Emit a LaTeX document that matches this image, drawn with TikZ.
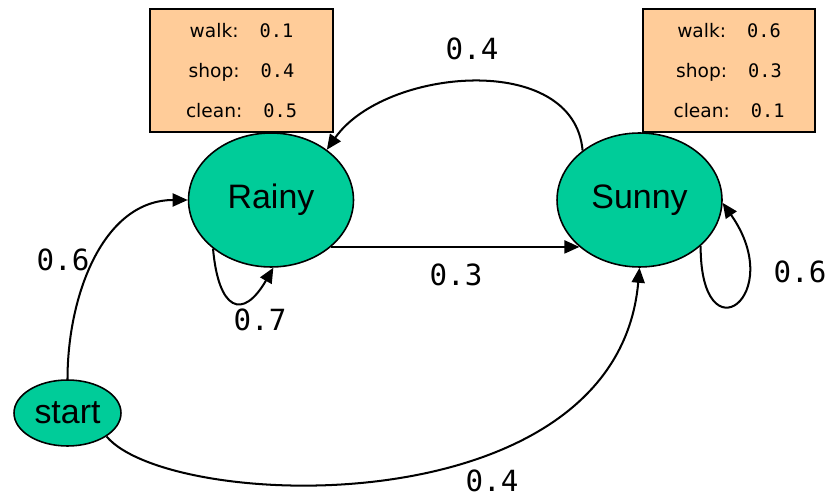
\documentclass[tikz,border=0pt]{standalone}
\usepackage{fontspec}
\setmainfont{Liberation Sans}
\newfontfamily\labelfont{DejaVu Sans}
\newfontfamily\numfont{DejaVu Sans Mono}
\usetikzlibrary{shapes.geometric, arrows.meta}
\definecolor{stategreen}{RGB}{0,204,153}
\definecolor{emitorange}{RGB}{255,204,153}
\tikzstyle{state}=[ellipse,draw,line width=0.9pt,fill=stategreen,inner sep=0,font=\fontsize{19.3}{23}\selectfont]
\tikzstyle{emission}=[rectangle,draw,line width=0.9pt,fill=emitorange,minimum height=2.46cm,align=center,font=\labelfont\fontsize{10.6}{22.7}\selectfont]
\tikzstyle{arrow}=[line width=1.15pt,-{Triangle[length=3mm,width=2.6mm]}]
\tikzstyle{prob}=[inner sep=0,font=\numfont\fontsize{16.6}{20}\selectfont]
\newcommand{\emitline}[2]{#1:\hspace{0.42cm}{\numfont #2}}

\begin{document}
\begin{tikzpicture}[x=0.02cm,y=0.02cm]
\useasboundingbox (0,0) rectangle (827,-499);

\node[state,minimum width=3.3cm,minimum height=2.68cm] (rainy) at (271,-200) {Rainy};
\node[state,minimum width=3.3cm,minimum height=2.68cm] (sunny) at (639.5,-200) {Sunny};
\node[state,minimum width=2.14cm,minimum height=1.32cm] (start) at (67.5,-413) {start};

\node[emission,minimum width=3.66cm] (rainyemit) at (241.5,-70.5)
	{\emitline{walk}{0.1}\\\emitline{shop}{0.4}\\\emitline{clean}{0.5}};
\node[emission,minimum width=3.44cm] (sunnyemit) at (729,-70.5)
	{\emitline{walk}{0.6}\\\emitline{shop}{0.3}\\\emitline{clean}{0.1}};

\draw[arrow] (sunny.139) to[out=95,in=55] (rainy.42);
\draw[arrow] (rainy.-38.6) -- (sunny.218.3);
\draw[arrow] (rainy.220) to[out=-85,in=-120,looseness=2.5] (rainy.-88);
\draw[arrow] (sunny.-37.6) to[out=-90,in=-55,looseness=6] (sunny.-2);
\draw[arrow] (start.north) to[out=90,in=180] (rainy.west);
\draw[arrow] (start.-31) to[out=-50,in=-95,out looseness=0.45,in looseness=1.2] (sunny.south);

\node[prob] (rs) at (472,-49) {0.4};
\node[prob] (sr) at (456,-275) {0.3};
\node[prob] (rr) at (260,-320) {0.7};
\node[prob] (ss) at (800,-272) {0.6};
\node[prob] (startr) at (63,-260) {0.6};
\node[prob] (starts) at (492,-481) {0.4};
\end{tikzpicture}
\end{document}
